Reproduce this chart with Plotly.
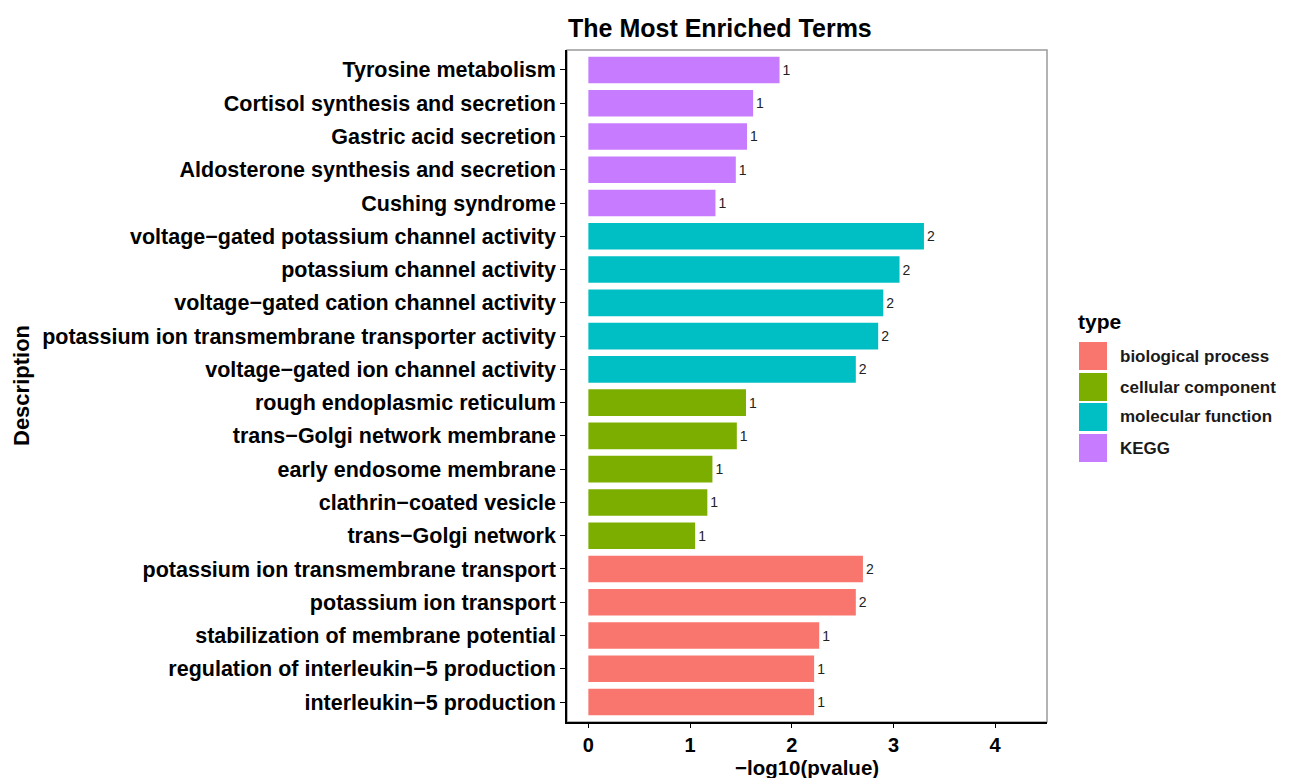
import plotly.graph_objects as go

# ---- data (top to bottom as shown) ----
terms = [
    "Tyrosine metabolism",
    "Cortisol synthesis and secretion",
    "Gastric acid secretion",
    "Aldosterone synthesis and secretion",
    "Cushing syndrome",
    "voltage\u2212gated potassium channel activity",
    "potassium channel activity",
    "voltage\u2212gated cation channel activity",
    "potassium ion transmembrane transporter activity",
    "voltage\u2212gated ion channel activity",
    "rough endoplasmic reticulum",
    "trans\u2212Golgi network membrane",
    "early endosome membrane",
    "clathrin\u2212coated vesicle",
    "trans\u2212Golgi network",
    "potassium ion transmembrane transport",
    "potassium ion transport",
    "stabilization of membrane potential",
    "regulation of interleukin\u22125 production",
    "interleukin\u22125 production",
]
neglog10p = [1.88, 1.62, 1.56, 1.45, 1.25,
             3.30, 3.06, 2.90, 2.85, 2.63,
             1.55, 1.46, 1.22, 1.17, 1.05,
             2.70, 2.63, 2.27, 2.22, 2.22]
counts = [1, 1, 1, 1, 1,
          2, 2, 2, 2, 2,
          1, 1, 1, 1, 1,
          2, 2, 1, 1, 1]
types = ["KEGG"] * 5 + ["molecular function"] * 5 + ["cellular component"] * 5 + ["biological process"] * 5

type_order = ["biological process", "cellular component", "molecular function", "KEGG"]
type_colors = ["#F8766D", "#7CAE00", "#00BFC4", "#C77CFF"]

FONT = "Liberation Sans, Arial, sans-serif"

fig = go.Figure()
for t, c in zip(type_order, type_colors):
    idx = [i for i, tt in enumerate(types) if tt == t]
    fig.add_trace(go.Bar(
        y=[terms[i] for i in idx],
        x=[neglog10p[i] for i in idx],
        orientation="h",
        marker=dict(color=c, line=dict(width=0)),
        text=[str(counts[i]) for i in idx],
        textposition="outside",
        textfont=dict(family=FONT, size=14, color="#222222"),
        cliponaxis=False,
        name=t,
        showlegend=False,
    ))

# page has an 8px body margin; figure placed so plot area spans x 567-1047, y 50-722
fig.update_layout(
    width=1281, height=770,
    margin=dict(l=559, r=242, t=42, b=56),
    plot_bgcolor="white",
    paper_bgcolor="white",
    bargap=0.2,
    font=dict(family=FONT, color="black"),
)
fig.update_xaxes(
    range=[-0.21, 4.51],
    tickvals=[0, 1, 2, 3, 4],
    ticks="outside", ticklen=4, tickcolor="black", tickwidth=1,
    tickfont=dict(family=FONT, size=20, color="black", weight="bold"),
    showgrid=False, zeroline=False,
    showline=True, linecolor="black", linewidth=1.5, mirror=False,
)
fig.update_yaxes(
    categoryorder="array", categoryarray=list(reversed(terms)),
    range=[-0.6, 19.6],
    ticks="outside", ticklen=5, tickcolor="black", tickwidth=1,
    tickfont=dict(family=FONT, size=21.5, color="black", weight="bold"),
    showgrid=False, zeroline=False,
    showline=True, linecolor="black", linewidth=1.5,
)
# grey panel border (top & right)
fig.add_shape(type="rect", xref="paper", yref="paper", x0=0, x1=1, y0=0, y1=1,
              line=dict(color="#9a9a9a", width=1.5), fillcolor="rgba(0,0,0,0)", layer="below")

def px_x(p):
    return (p - 567) / 480.0

def px_y(p):
    return (722 - p) / 672.0

# titles
fig.add_annotation(text="<b>The Most Enriched Terms</b>", xref="paper", yref="paper",
                   x=px_x(720), y=px_y(28), showarrow=False, yanchor="middle", xanchor="center",
                   font=dict(family=FONT, size=25, color="black"))
fig.add_annotation(text="<b>\u2212log10(pvalue)</b>", xref="paper", yref="paper",
                   x=0.5, y=px_y(767), showarrow=False, yanchor="middle",
                   font=dict(family=FONT, size=20.5, color="black"))
fig.add_annotation(text="<b>Description</b>", xref="paper", yref="paper",
                   x=px_x(21), y=0.5, showarrow=False, textangle=-90, xanchor="center",
                   font=dict(family=FONT, size=22, color="black"))

# custom legend (large keys like ggplot)
fig.add_annotation(text="<b>type</b>", xref="paper", yref="paper",
                   x=px_x(1076), y=px_y(321), xanchor="left", yanchor="middle",
                   showarrow=False, font=dict(family=FONT, size=21, color="black"))
key_tops = [342, 373, 403, 434]
for t, c, top in zip(type_order, type_colors, key_tops):
    fig.add_shape(type="rect", xref="paper", yref="paper",
                  x0=px_x(1079), x1=px_x(1107), y0=px_y(top + 28), y1=px_y(top),
                  line=dict(width=0), fillcolor=c)
    fig.add_annotation(text="<b>" + t + "</b>", xref="paper", yref="paper",
                       x=px_x(1118), y=px_y(top + 14), xanchor="left", yanchor="middle",
                       showarrow=False, font=dict(family=FONT, size=17, color="#1a1a1a"))

fig.write_html("out.html")
